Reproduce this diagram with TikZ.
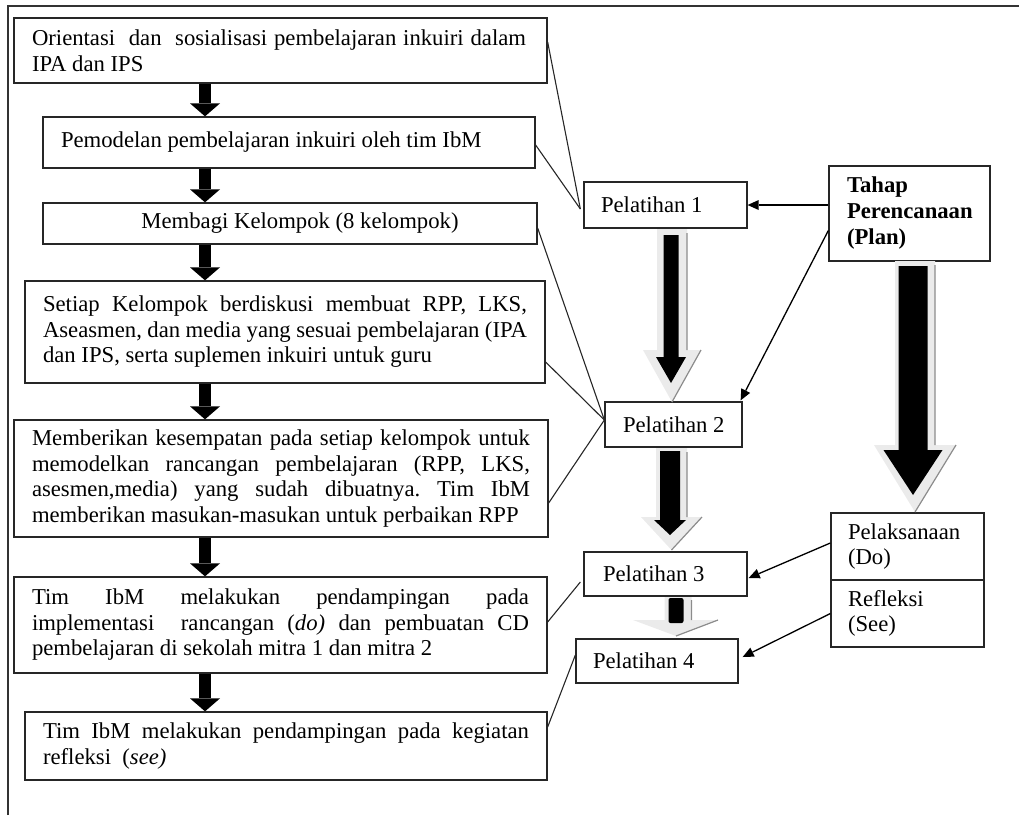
\documentclass[tikz,border=0pt]{standalone}
\usepackage{fontspec}
\setmainfont{Liberation Serif}
\usetikzlibrary{arrows.meta}
\frenchspacing
\newcommand{\jlin}[1]{\makebox[\hsize][s]{#1}}
\newcommand{\outerarr}[6]{%
  \fill[black!8] (#1-#5,#2) -- (#1+#5,#2) -- (#1+#5,#3) -- (#1+#6,#3) -- (#1,#4) -- (#1-#6,#3) -- (#1-#5,#3) -- cycle;
  \draw[black!45,line width=1.2pt] (#1+#5,#2+4) -- (#1+#5,#3) (#1+#6,#3) -- (#1,#4);}
\newcommand{\innerarr}[6]{%
  \fill[black] (#1-#5,#2) -- (#1+#5,#2) -- (#1+#5,#3) -- (#1+#6,#3) -- (#1,#4) -- (#1-#6,#3) -- (#1-#5,#3) -- cycle;}
\tikzset{
  txt/.style={font=\fontsize{22.7pt}{25.5pt}\selectfont\frenchspacing},
  box/.style={txt, draw=black!85, line width=1.3pt, inner xsep=18pt, inner ysep=2pt, align=justify},
  rbox/.style={txt, draw=black!85, line width=1.3pt, inner xsep=17pt, inner ysep=2pt, align=justify},
  smallarr/.style={line width=12pt, -{Triangle[line width=0pt,length=13pt,width=30pt]}},
  thinarr/.style={line width=1.3pt, -{Triangle[line width=0pt,length=11pt,width=10pt]}},
  conn/.style={line width=1.1pt, black!85},
}
\begin{document}
\begin{tikzpicture}[x=1pt,y=-1pt]
\useasboundingbox (0,0) rectangle (1019,815);
% frame
\draw[line width=1.6pt, black!80] (8,815) -- (8,6) -- (1019,6);

% left boxes
\node[box, minimum width=533pt, minimum height=65pt, text width=497pt] (b1) at (280.5,50.5)
  {\makebox[494pt][s]{Orientasi\ \ dan\ \ sosialisasi pembelajaran inkuiri dalam}\\IPA dan IPS};
\node[box, minimum width=492pt, minimum height=51pt, text width=456pt] (b2) at (289,142.5)
  {Pemodelan pembelajaran inkuiri oleh tim IbM};
\node[box, minimum width=494pt, minimum height=41pt, text width=458pt] (b3) at (290,223.5)
  {\hfil\hspace{20pt}Membagi Kelompok (8 kelompok)};
\node[box, minimum width=520pt, minimum height=102pt, text width=484pt] (b4) at (285,332)
  {\jlin{Setiap Kelompok berdiskusi membuat RPP, LKS,}\\
   \jlin{Aseasmen, dan media yang sesuai pembelajaran (IPA}\\
   dan IPS, serta suplemen inkuiri untuk guru};
\node[box, minimum width=534pt, minimum height=117pt, text width=498pt] (b5) at (281,478.5)
  {\jlin{Memberikan kesempatan pada setiap kelompok untuk}\\
   \jlin{memodelkan rancangan pembelajaran (RPP, LKS,}\\
   \jlin{asesmen,media) yang sudah dibuatnya. Tim IbM}\\
   memberikan masukan-masukan untuk perbaikan RPP};
\node[box, minimum width=533pt, minimum height=96pt, text width=497pt] (b6) at (280.5,625)
  {\jlin{Tim IbM melakukan pendampingan pada}\\
   \jlin{implementasi\ \ rancangan (\textit{do)} dan pembuatan CD}\\
   pembelajaran di sekolah mitra 1 dan mitra 2};
\node[box, minimum width=522pt, minimum height=68pt, text width=486pt] (b7) at (286,746)
  {\jlin{Tim IbM melakukan pendampingan pada kegiatan}\\
   refleksi\ \ (\textit{see)}};

% small arrows
\coordinate (ax) at (205,0);
\draw[smallarr] (b1.south -| ax) -- (b2.north -| ax);
\draw[smallarr] (b2.south -| ax) -- (b3.north -| ax);
\draw[smallarr] (b3.south -| ax) -- (b4.north -| ax);
\draw[smallarr] (b4.south -| ax) -- (b5.north -| ax);
\draw[smallarr] (b5.south -| ax) -- (b6.north -| ax);
\draw[smallarr] (b6.south -| ax) -- (b7.north -| ax);

% right boxes
\node[rbox, minimum width=163pt, minimum height=46pt, text width=129pt] (p1) at (665.5,205) {Pelatihan 1};
\node[rbox, minimum width=137pt, minimum height=45pt, text width=104pt, inner xsep=16.5pt] (p2) at (673.5,424.5) {\hspace{1.5pt}Pelatihan 2};
\node[rbox, minimum width=163pt, minimum height=44pt, text width=125pt, inner xsep=19pt] (p3) at (665.5,574) {Pelatihan 3};
\node[rbox, minimum width=162pt, minimum height=44pt, text width=128pt] (p4) at (657,661) {Pelatihan 4};
\node[rbox, minimum width=161pt, minimum height=95pt, text width=131pt, inner xsep=15pt, font=\fontsize{22.7pt}{26pt}\selectfont\bfseries] (plan) at (909.5,213.5)
  {\hspace{3pt}Tahap\\\hspace*{3pt}Perencanaan\\\hspace*{3pt}(Plan)};
\node[rbox, minimum width=153pt, minimum height=67pt, text width=119pt] (do) at (907.5,546.5) {Pelaksanaan\\(Do)};
\node[rbox, minimum width=153pt, minimum height=67pt, text width=119pt] (see) at (907.5,613.5) {Refleksi\\(See)};

% big gray arrows
\outerarr{672}{229}{350}{402}{15}{29}
\innerarr{671}{235}{357}{383}{7.5}{15}
\outerarr{671.5}{448}{517}{550}{15.5}{30.5}
\innerarr{670}{451}{520}{535}{10}{16}
\fill[black!8] (664.5,597) -- (691.5,597) -- (691.5,620) -- (718,620) -- (676,636) -- (633,620) -- (664.5,620) -- cycle;
\draw[black!45,line width=1.2pt] (691.5,600) -- (691.5,620) (718,620) -- (676,636);
\fill[black, rounded corners=2pt] (668.5,598) rectangle (683.5,623);
\outerarr{915}{261}{445}{512}{20}{41}
\innerarr{913}{266}{450}{495}{14.5}{29.5}

% connectors
\draw[conn] ([yshift=8.5pt]b1.east) -- ([xshift=-3pt,yshift=-4pt]p1.west);
\draw[conn] ([yshift=-2.5pt]b2.east) -- ([xshift=-3pt,yshift=-4pt]p1.west);
\draw[conn] ([yshift=-4.5pt]b3.east) -- ([yshift=4.5pt]p2.west);
\draw[conn] ([yshift=-30pt]b4.east) -- ([yshift=4.5pt]p2.west);
\draw[conn] ([yshift=-24.5pt]b5.east) -- ([yshift=4.5pt]p2.west);
\draw[conn] ([yshift=3pt]b6.east) -- ([xshift=-3pt,yshift=-8pt]p3.west);
\draw[conn] ([yshift=19pt]b7.east) -- ([yshift=6pt]p4.west);

\draw[thinarr] (plan.west |- p1.east) -- (p1.east);
\draw[thinarr] ([yshift=-17pt]plan.west) -- ([xshift=-2pt,yshift=1pt]p2.north east);
\draw[thinarr] ([yshift=3.5pt]do.west) -- ([xshift=1pt,yshift=-4pt]p3.east);
\draw[thinarr] (see.west) -- ([xshift=4pt,yshift=4pt]p4.east);
\end{tikzpicture}
\end{document}
